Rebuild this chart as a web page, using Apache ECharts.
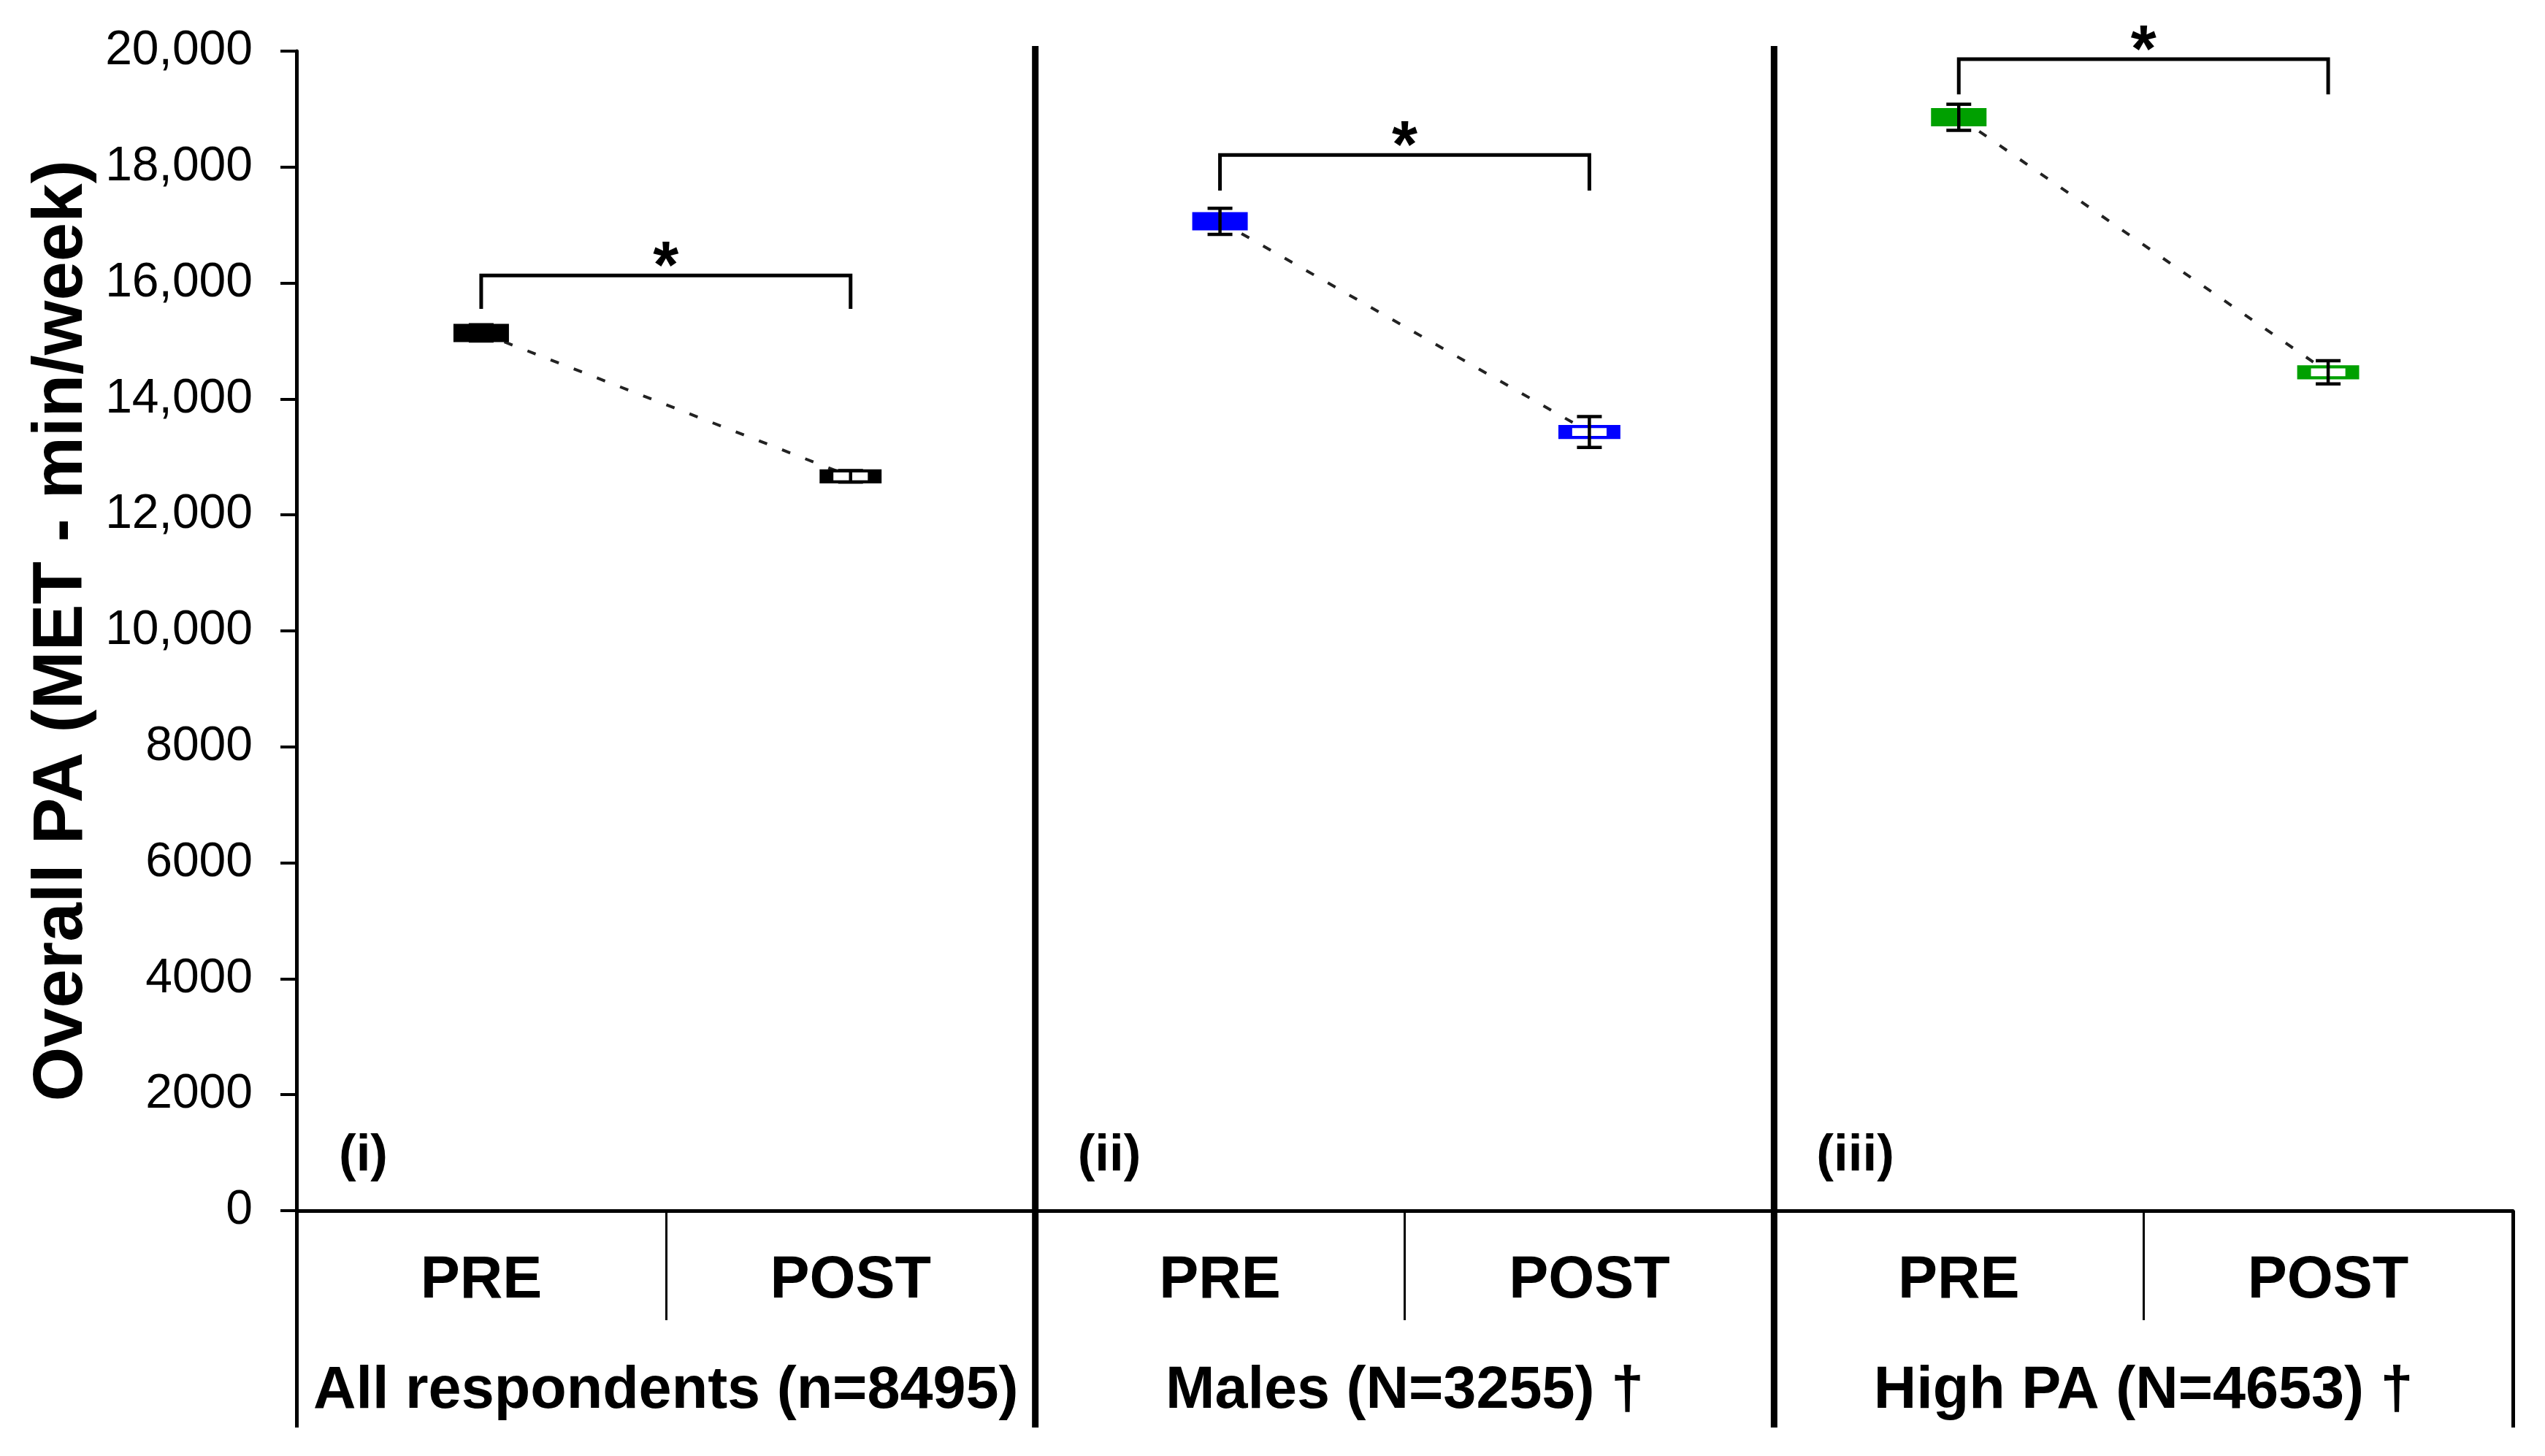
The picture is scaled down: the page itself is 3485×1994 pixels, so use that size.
<!DOCTYPE html>
<html>
<head>
<meta charset="utf-8">
<script src="https://cdn.jsdelivr.net/npm/echarts@6/dist/echarts.min.js"></script>
<style>
html,body{margin:0;padding:0;background:#fff;}
#chart{width:3485px;height:1994px;}
</style>
</head>
<body>
<div id="chart"></div>
<script>
// ---- data ----
const timeCategories = ['PRE', 'POST', 'PRE', 'POST', 'PRE', 'POST'];
const groupLabels = ['All respondents (n=8495)', 'Males (N=3255) \u2020', 'High PA (N=4653) \u2020'];
const panelLabels = ['(i)', '(ii)', '(iii)'];
const preMeans = [15140, 17065, 18860];
const postMeans = [12665, 13430, 14460];
const preErr = [140, 225, 225];
const postErr = [100, 265, 200];
const bracketTop = [16130, 18210, 19860];
const bracketBottom = [15555, 17595, 19255];
const sigMarks = ['*', '*', '*'];
const yTickLabels = ['0', '2000', '4000', '6000', '8000', '10,000', '12,000', '14,000', '16,000', '18,000', '20,000'];
const panelColors = ['#000000', '#0000FF', '#00A000'];

const chart = echarts.init(document.getElementById('chart'), null, {renderer: 'canvas'});

const BOLD = "'Liberation Sans', Arial, sans-serif";
const NARROW = "'Liberation Sans Narrow', 'Arial Narrow', 'Liberation Sans', Arial, sans-serif";

// line series per panel
const lineSeries = preMeans.map((pre, i) => {
  const data = timeCategories.map(() => '-');
  data[2 * i] = pre;
  data[2 * i + 1] = {
    value: postMeans[i],
    symbolSize: [66, 15],
    itemStyle: {color: '#ffffff', borderColor: panelColors[i], borderWidth: 9}
  };
  return {
    type: 'line',
    xAxisIndex: 0,
    yAxisIndex: 0,
    data: data,
    symbol: 'rect',
    symbolSize: [76, 25],
    showSymbol: true,
    connectNulls: false,
    itemStyle: {color: panelColors[i], borderWidth: 0, opacity: 1},
    lineStyle: {color: '#222222', width: 4, type: [12, 22]},
    z: 3,
    silent: true
  };
});

// error bars
const errData = [];
preMeans.forEach((m, i) => {
  errData.push([2 * i, m, preErr[i]]);
  errData.push([2 * i + 1, postMeans[i], postErr[i]]);
});
const errSeries = {
  type: 'custom',
  xAxisIndex: 0, yAxisIndex: 0,
  data: errData,
  z: 6,
  silent: true,
  renderItem: function (params, api) {
    const x = api.value(0), m = api.value(1), e = api.value(2);
    const top = api.coord([x, m + e]);
    const bot = api.coord([x, m - e]);
    const hw = 17;
    const st = {stroke: '#000', lineWidth: 4.5};
    return {
      type: 'group',
      children: [
        {type: 'line', shape: {x1: top[0], y1: top[1], x2: bot[0], y2: bot[1]}, style: st},
        {type: 'line', shape: {x1: top[0] - hw, y1: top[1], x2: top[0] + hw, y2: top[1]}, style: st},
        {type: 'line', shape: {x1: bot[0] - hw, y1: bot[1], x2: bot[0] + hw, y2: bot[1]}, style: st}
      ]
    };
  }
};

// significance brackets
const bracketData = bracketTop.map((t, i) => [i, t, bracketBottom[i]]);
const bracketSeries = {
  type: 'custom',
  xAxisIndex: 0, yAxisIndex: 0,
  data: bracketData,
  z: 5,
  silent: true,
  clip: false,
  renderItem: function (params, api) {
    const i = api.value(0), t = api.value(1), b = api.value(2);
    const pTop = api.coord([2 * i, t]);
    const pBot = api.coord([2 * i, b]);
    const qTop = api.coord([2 * i + 1, t]);
    const qBot = api.coord([2 * i + 1, b]);
    return {
      type: 'group',
      children: [
        {type: 'polyline', shape: {points: [[pBot[0], pBot[1]], [pTop[0], pTop[1]], [qTop[0], qTop[1]], [qBot[0], qBot[1]]]},
         style: {stroke: '#000', lineWidth: 5, fill: null}},
        {type: 'text', x: (pTop[0] + qTop[0]) / 2, y: pTop[1] - 8,
         style: {text: sigMarks[params.dataIndex], fontFamily: BOLD, fontWeight: 'bold', fontSize: 90, fill: '#000', align: 'center', verticalAlign: 'middle'}}
      ]
    };
  }
};

// panel dividers and panel labels
const dividerSeries = {
  type: 'custom',
  xAxisIndex: 1, yAxisIndex: 0,
  data: [[1], [2]],
  z: 4,
  silent: true,
  clip: false,
  renderItem: function (params, api) {
    const g = api.value(0);
    const c = api.coord([g, 20000]);
    const bw = api.size([1, 0])[0];
    const x = c[0] - bw / 2;
    const yBase = api.coord([g, 0])[1];
    return {
      type: 'line',
      shape: {x1: x, y1: c[1] - 7, x2: x, y2: yBase + 297},
      style: {stroke: '#000', lineWidth: 9}
    };
  }
};
const labelSeries = {
  type: 'custom',
  xAxisIndex: 1, yAxisIndex: 0,
  data: panelLabels.map((l, i) => [i, 945]),
  z: 4,
  silent: true,
  renderItem: function (params, api) {
    const g = api.value(0);
    const c = api.coord([g, api.value(1)]);
    const bw = api.size([1, 0])[0];
    return {
      type: 'text',
      x: c[0] - bw / 2 + 58,
      y: c[1],
      style: {text: panelLabels[params.dataIndex], fontFamily: BOLD, fontWeight: 'bold', fontSize: 71, fill: '#000', align: 'left', verticalAlign: 'middle'}
    };
  }
};

const option = {
  animation: false,
  backgroundColor: '#ffffff',
  grid: {left: 406, right: 44, top: 70, bottom: 336, containLabel: false},
  xAxis: [
    {
      type: 'category',
      data: timeCategories,
      position: 'bottom',
      boundaryGap: true,
      axisLine: {show: true, lineStyle: {color: '#000', width: 5}},
      axisTick: {show: true, interval: 0, length: 150, lineStyle: {color: '#000', width: 3}},
      axisLabel: {interval: 0, margin: 56, color: '#000', fontFamily: BOLD, fontWeight: 'bold', fontSize: 81},
      splitLine: {show: false}
    },
    {
      type: 'category',
      data: groupLabels,
      position: 'bottom',
      boundaryGap: true,
      axisLine: {show: false},
      axisTick: {show: true, interval: 0, length: 297, lineStyle: {color: '#000', width: 5}},
      axisLabel: {interval: 0, margin: 207, color: '#000', fontFamily: BOLD, fontWeight: 'bold', fontSize: 81},
      splitLine: {show: false}
    }
  ],
  yAxis: [{
    type: 'value',
    min: 0, max: 20000, interval: 2000,
    name: 'Overall PA (MET - min/week)',
    nameLocation: 'middle',
    nameRotate: 90,
    nameGap: 262,
    nameTextStyle: {color: '#000', fontFamily: BOLD, fontWeight: 'bold', fontSize: 96},
    axisLine: {show: true, lineStyle: {color: '#000', width: 5}},
    axisTick: {show: true, length: 22, lineStyle: {color: '#000', width: 4}},
    axisLabel: {margin: 60, color: '#000', fontFamily: NARROW, fontSize: 66,
      formatter: function (v) { return yTickLabels[Math.round(v / 2000)]; }},
    splitLine: {show: false}
  }],
  series: [...lineSeries, errSeries, bracketSeries, dividerSeries, labelSeries]
};
chart.setOption(option);
</script>
</body>
</html>
